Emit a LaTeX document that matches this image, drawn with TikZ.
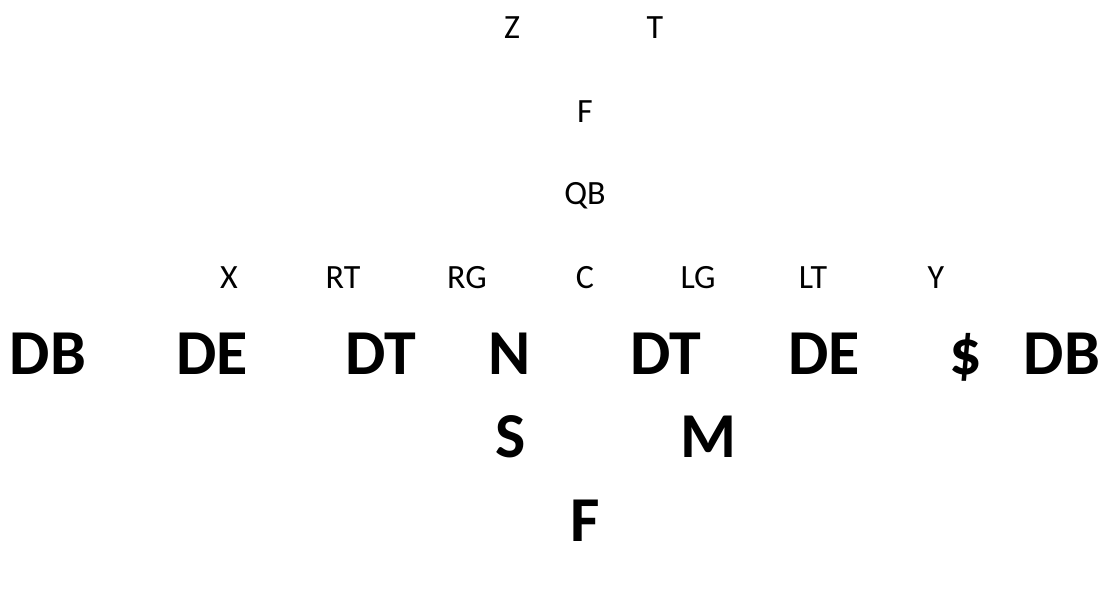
\documentclass[tikz,border=0pt]{standalone}
\usepackage{fontspec}
\setmainfont{Carlito}
\tikzset{
  sm/.style={inner sep=0pt, anchor=base, font=\fontsize{34}{39}\selectfont},
  bg/.style={inner sep=0pt, anchor=base, font=\fontsize{64}{70}\selectfont\bfseries},
}
\begin{document}
\begin{tikzpicture}[x=1pt,y=-1pt]
\fill[white] (0,0) rectangle (1107,605);
\useasboundingbox (0,0) rectangle (1107,605);
% small labels
\node[sm] (z) at (512,38) {Z};
\node[sm] (t) at (655,38) {T};
\node[sm] (f1) at (585,122) {F};
\node[sm] (qb) at (585,204) {QB};
\node[sm] (x) at (229,288) {X};
\node[sm] (rt) at (343,288) {RT};
\node[sm] (rg) at (467,288) {RG};
\node[sm] (c) at (585,288) {C};
\node[sm] (lg) at (698,288) {LG};
\node[sm] (lt) at (813,288) {LT};
\node[sm] (y) at (936,288) {Y};
% bold labels
\node[bg] (db1) at (48,374) {DB};
\node[bg] (de1) at (212,374) {DE};
\node[bg] (dt1) at (381,374) {DT};
\node[bg] (n) at (510,374) {N};
\node[bg] (dt2) at (666,374) {DT};
\node[bg] (de2) at (824,374) {DE};
\node[bg] (dol) at (966,374) {\$};
\node[bg] (db2) at (1062,374) {DB};
\node[bg] (s) at (511,457) {S};
\node[bg] (m) at (708,457) {M};
\node[bg] (f2) at (585,541) {F};
\end{tikzpicture}
\end{document}
